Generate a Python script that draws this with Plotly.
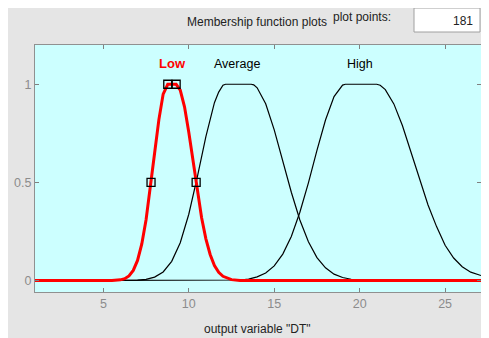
import plotly.graph_objects as go

# ---- data ----
low_x = [1, 2, 3, 4, 5, 5.5, 6.0, 6.25, 6.5, 6.75, 7.0, 7.25, 7.5, 7.75, 8.0, 8.25, 8.5, 8.77,
         9.26, 9.5, 9.75, 10.0, 10.25, 10.5, 10.75, 11.0, 11.25, 11.5, 11.75, 12.0, 12.5, 13, 15, 20, 25, 27.1]
low_y = [0, 0, 0, 0, 0, 0, 0.004, 0.01, 0.024, 0.052, 0.103, 0.187, 0.31, 0.47, 0.65, 0.82, 0.95, 1,
         1, 0.97, 0.885, 0.756, 0.607, 0.456, 0.32, 0.213, 0.133, 0.077, 0.042, 0.022, 0.005, 0, 0, 0, 0, 0]

avg_x = [1, 3, 5, 6.5, 7.0, 7.5, 8.0, 8.5, 9.0, 9.5, 10.0, 10.5, 11.0, 11.5, 11.75, 12.0, 12.15,
         13.65, 13.8, 14.0, 14.5, 15.0, 15.5, 16.0, 16.5, 17.0, 17.5, 18.0, 18.5, 19.0, 19.5, 20.0, 20.5, 23, 25, 27.1]
avg_y = [0, 0, 0, 0, 0.002, 0.006, 0.018, 0.044, 0.098, 0.193, 0.338, 0.528, 0.733, 0.906, 0.96, 0.995, 1,
         1, 0.997, 0.982, 0.901, 0.768, 0.61, 0.45, 0.309, 0.198, 0.117, 0.065, 0.033, 0.016, 0.007, 0.003, 0, 0, 0, 0]

high_x = [1, 5, 10, 12.0, 12.5, 13.0, 13.5, 14.0, 14.5, 15.0, 15.5, 16.0, 16.5, 17.0, 17.5, 18.0, 18.5,
          18.8, 19.0, 19.16, 21.0, 21.2, 21.5, 22.0, 22.5, 23.0, 23.5, 24.0, 24.5, 25.0, 25.5, 26.0, 26.5, 27.1]
high_y = [0, 0, 0, 0, 0.001, 0.003, 0.008, 0.019, 0.039, 0.075, 0.135, 0.225, 0.348, 0.498, 0.663, 0.818, 0.937,
          0.976, 0.996, 1, 1, 0.995, 0.973, 0.9, 0.79, 0.655, 0.515, 0.385, 0.275, 0.18, 0.115, 0.071, 0.043, 0.026]

marker_x = [7.79, 8.77, 9.26, 10.43]
marker_y = [0.5, 1, 1, 0.5]

mf_names = ["Low", "Average", "High"]
mf_label_x = [9.03, 12.83, 20.03]
mf_label_y = [1.105, 1.105, 1.105]
mf_label_colors = ["#ff0000", "#000000", "#000000"]

x_ticks = [5, 10, 15, 20, 25]
y_ticks = [0, 0.5, 1]
y_tick_text = ["0", "0.5", "1"]

FONT = "Liberation Sans, Arial, sans-serif"
# page body has an 8px margin; the figure starts at (8, 8) in the window
OFF = 8
W, H = 489 - OFF, 338 - OFF
L, R, T, B = 35 - OFF, 8, 45 - OFF, 46
PW, PH = W - L - R, H - T - B


def px(xp):
    return (xp - OFF - L) / PW


def py(yp):
    return (338 - B - yp) / PH


fig = go.Figure()
fig.add_trace(go.Scatter(x=avg_x, y=avg_y, mode="lines", line=dict(color="black", width=1.2), hoverinfo="skip"))
fig.add_trace(go.Scatter(x=high_x, y=high_y, mode="lines", line=dict(color="black", width=1.2), hoverinfo="skip"))
fig.add_trace(go.Scatter(x=low_x, y=low_y, mode="lines", line=dict(color="#ff0000", width=3), hoverinfo="skip"))
fig.add_trace(go.Scatter(x=marker_x, y=marker_y, mode="markers",
                         marker=dict(symbol="square-open", size=8, color="black", line=dict(width=1.3)),
                         hoverinfo="skip"))

for name, lx, ly, c in zip(mf_names, mf_label_x, mf_label_y, mf_label_colors):
    txt = "<b>%s</b>" % name if name == "Low" else name
    fig.add_annotation(x=lx, y=ly, text=txt, showarrow=False, xref="x", yref="y",
                       font=dict(family=FONT, size=13 if name == "Low" else 12.5, color=c),
                       xanchor="center", yanchor="middle")

# text box for plot points
fig.add_shape(type="rect", xref="paper", yref="paper",
              x0=px(414), x1=px(480), y0=py(32), y1=py(8),
              fillcolor="white", line=dict(color="#a0a0a0", width=1))

fig.add_annotation(xref="paper", yref="paper", x=px(257), y=py(22), text="Membership function plots",
                   showarrow=False, font=dict(family=FONT, size=12, color="#222222"), xanchor="center", yanchor="middle")
fig.add_annotation(xref="paper", yref="paper", x=px(362), y=py(17), text="plot points:",
                   showarrow=False, font=dict(family=FONT, size=12, color="#222222"), xanchor="center", yanchor="middle")
fig.add_annotation(xref="paper", yref="paper", x=px(475), y=py(21), text="181",
                   showarrow=False, font=dict(family=FONT, size=12, color="#222222"), xanchor="right", yanchor="middle")
fig.add_annotation(xref="paper", yref="paper", x=px(257), y=py(329), text='output variable "DT"',
                   showarrow=False, font=dict(family=FONT, size=12, color="#222222"), xanchor="center", yanchor="middle")

fig.update_layout(
    width=W, height=H,
    margin=dict(l=L, r=R, t=T, b=B),
    paper_bgcolor="#e5e5e5",
    plot_bgcolor="#ccffff",
    showlegend=False,
    xaxis=dict(range=[1, 27.1], tickvals=x_ticks, ticks="inside", ticklen=4, tickcolor="#808080",
               showline=True, mirror="ticks", linecolor="#909090", linewidth=1, showgrid=False, zeroline=False,
               automargin=False,
               tickfont=dict(family=FONT, size=12.5, color="#8c8c8c")),
    yaxis=dict(range=[-0.058, 1.2], tickvals=y_ticks, ticktext=y_tick_text, ticks="inside", ticklen=4,
               tickcolor="#808080", showline=True, mirror="ticks", linecolor="#909090", linewidth=1,
               showgrid=False, zeroline=False, automargin=False,
               tickfont=dict(family=FONT, size=12.5, color="#8c8c8c")),
)

fig.write_html("out.html")
